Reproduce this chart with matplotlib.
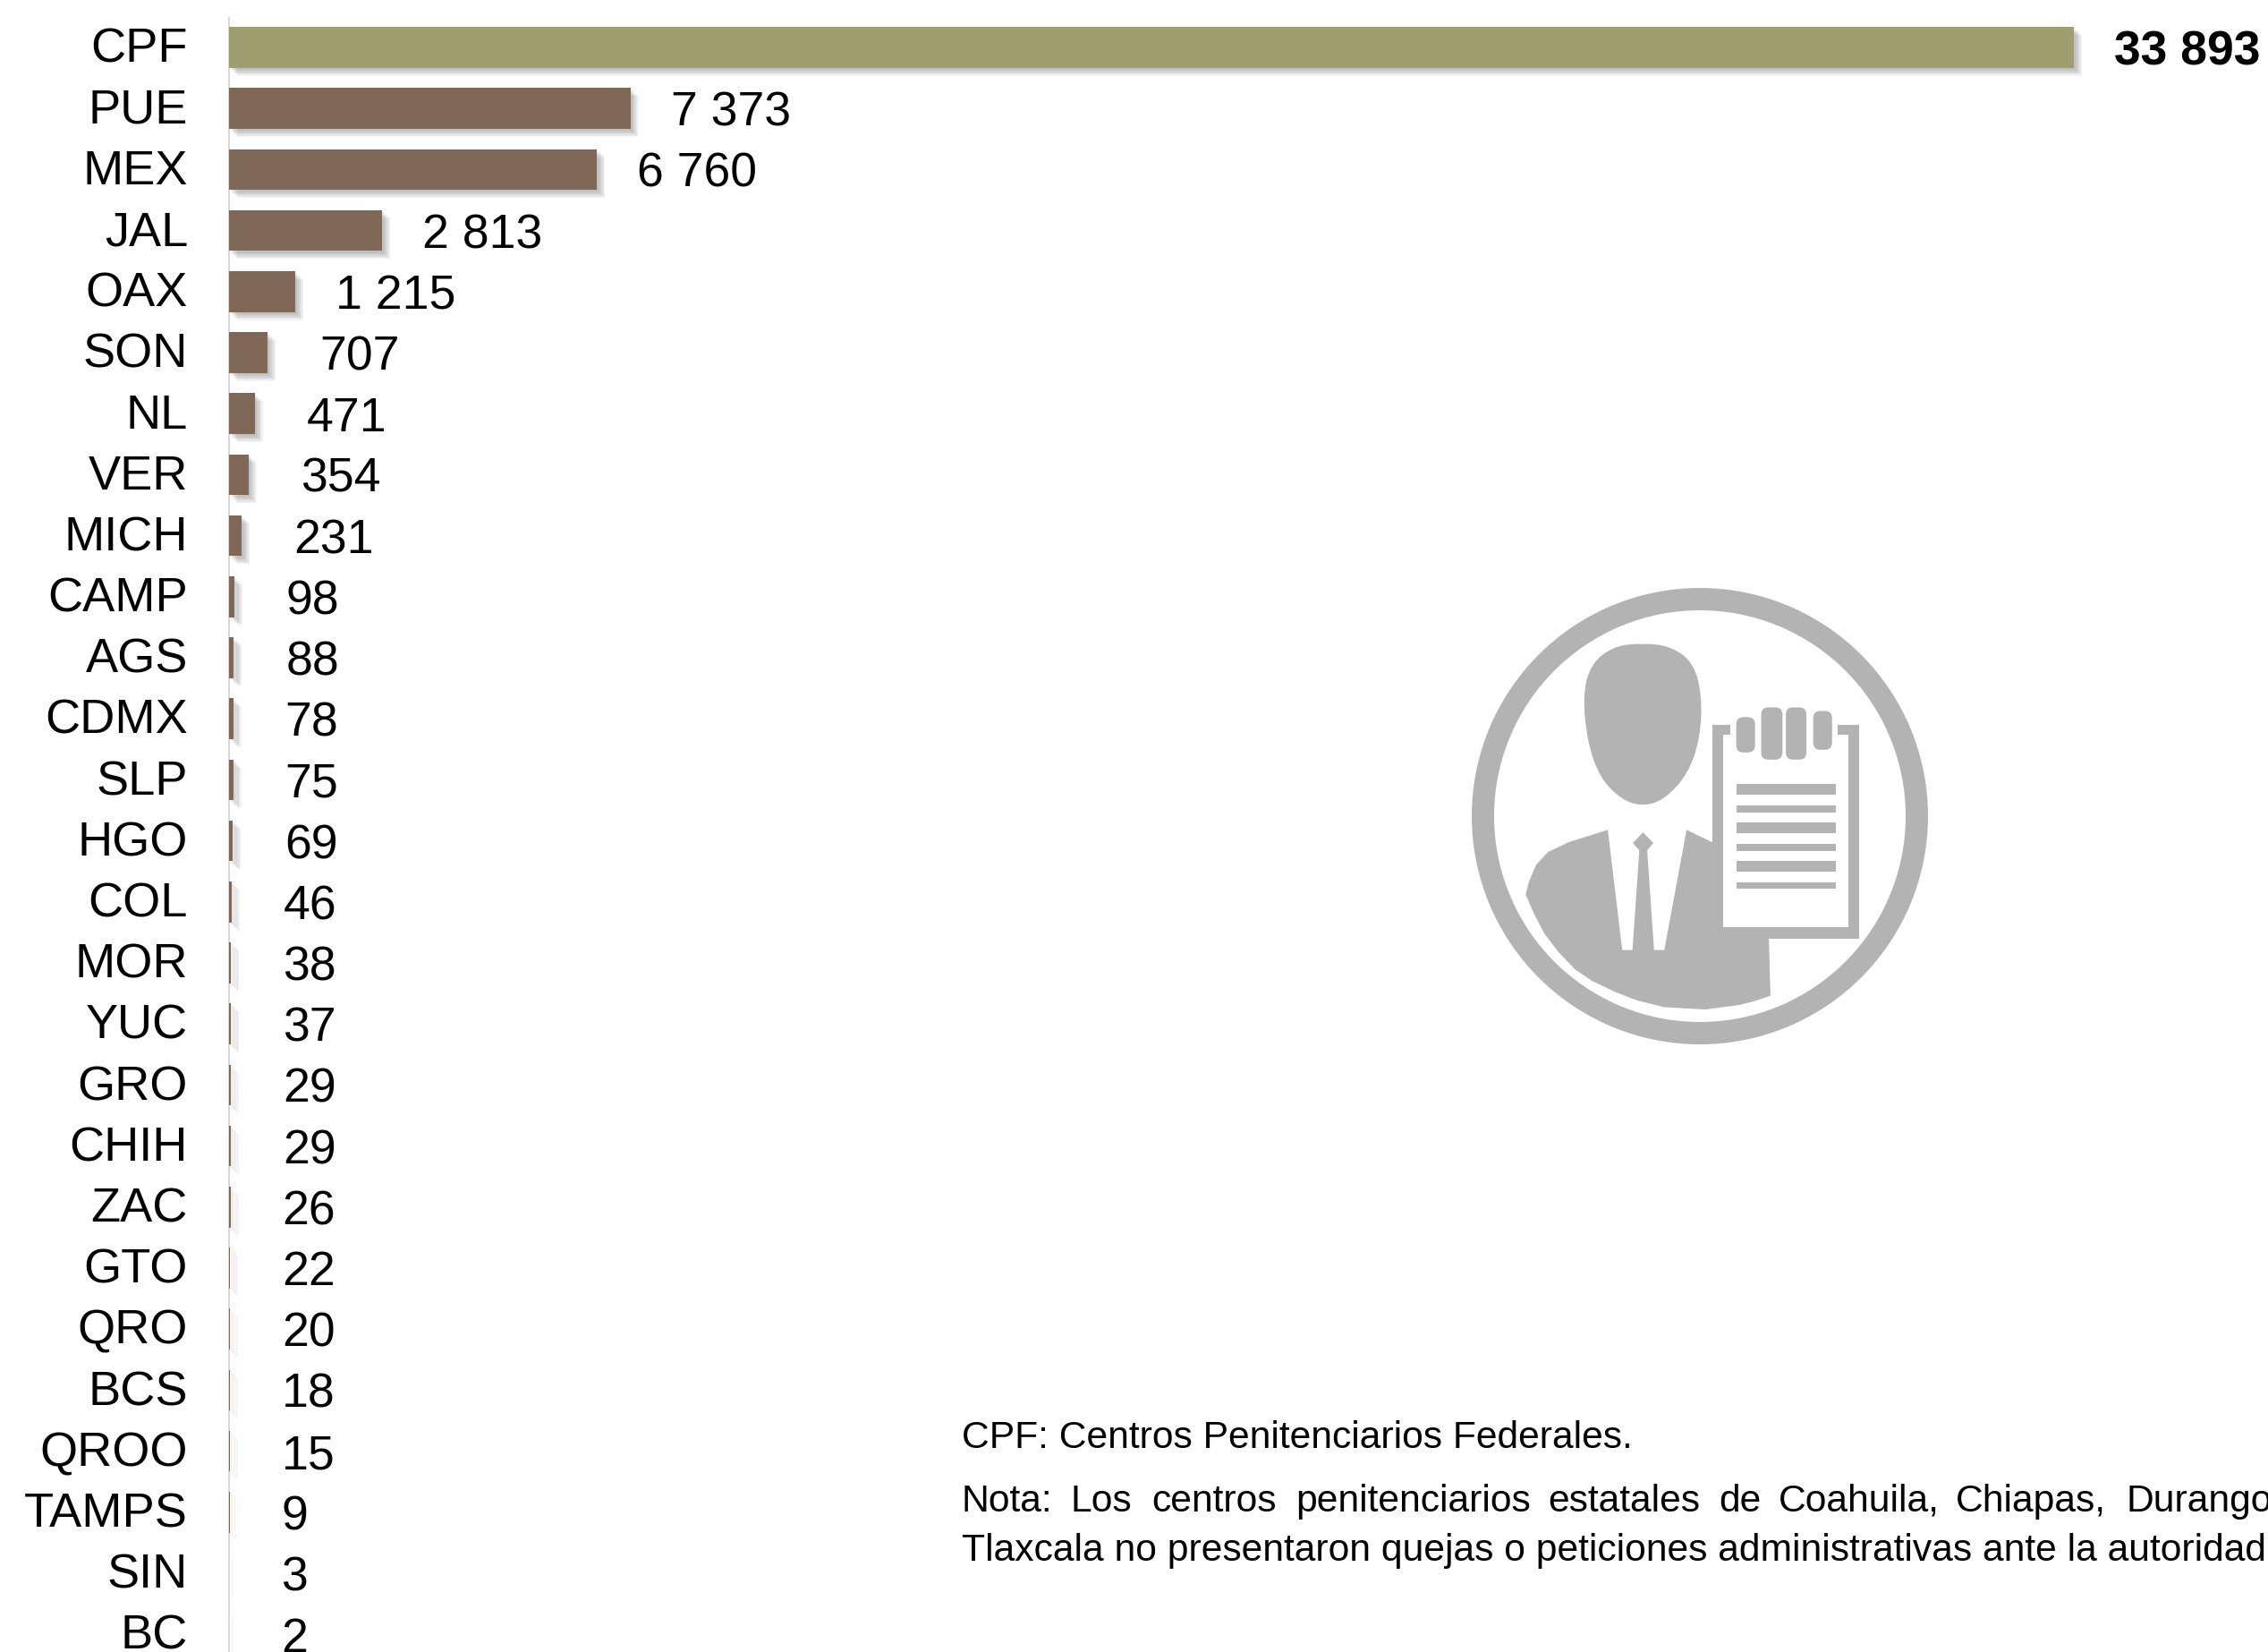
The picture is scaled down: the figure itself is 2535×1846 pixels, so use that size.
import numpy as np
from matplotlib import pyplot as plt
from matplotlib import patheffects as pe
from matplotlib.patches import Rectangle, FancyBboxPatch, PathPatch, Wedge
from matplotlib.path import Path

plt.rcParams['font.family'] = ['Liberation Sans', 'DejaVu Sans']

categories = ['CPF', 'PUE', 'MEX', 'JAL', 'OAX', 'SON', 'NL', 'VER', 'MICH', 'CAMP', 'AGS', 'CDMX', 'SLP',
              'HGO', 'COL', 'MOR', 'YUC', 'GRO', 'CHIH', 'ZAC', 'GTO', 'QRO', 'BCS', 'QROO', 'TAMPS', 'SIN', 'BC']
values = [33893, 7373, 6760, 2813, 1215, 707, 471, 354, 231, 98, 88, 78, 75,
          69, 46, 38, 37, 29, 29, 26, 22, 20, 18, 15, 9, 3, 2]
note_first = 'CPF: Centros Penitenciarios Federales.'
note_words = ['Nota:', 'Los', 'centros', 'penitenciarios', 'estatales', 'de', 'Coahuila,', 'Chiapas,', 'Durango']
note_word_x = [1074, 1197, 1287, 1448, 1730, 1921, 1988, 2186, 2376]
note_last = 'Tlaxcala no presentaron quejas o peticiones administrativas ante la autoridad'

W, H = 2535, 1846
ICON = '#B3B3B3'
FS_CAT = 39
FS_VAL = 38.5

fig = plt.figure(figsize=(W / 100, H / 100), dpi=100)

# bars, scale from the reference: 0 at x=256, 0.06084 px per unit, rows 68.2 px apart
ax = fig.add_axes([256 / W, 0, 1 - 256 / W, 1 - 20 / H])
ax.set_xlim(0, (W - 256) / 0.06084)
ax.set_ylim((H - 53) / 68.2, -33 / 68.2)

colors = ['#9E9E71'] + ['#806858'] * (len(values) - 1)
shadow = [pe.SimplePatchShadow(offset=(o, -o), shadow_rgbFace='#555555', alpha=0.07)
          for o in (6.5, 5.5, 4.5, 3.5, 2.5, 1.5)]
bars = ax.barh(range(len(values)), values, height=0.67, color=colors, zorder=3)
for b in bars:
    b.set_path_effects(shadow + [pe.Normal()])

for i, v in enumerate(values):
    label = f'{v:,}'.replace(',', ' ')
    off = 45 if v >= 1000 else 58
    ax.annotate(label, (v, i), xytext=(off * 0.72, 0), textcoords='offset points', va='center_baseline', ha='left',
                fontsize=FS_VAL, color='black', fontweight='bold' if i == 0 else 'normal', annotation_clip=False)
    ax.annotate(categories[i], (0, i), xytext=(-46 * 0.72, 2), textcoords='offset points', va='center_baseline',
                ha='right', fontsize=FS_CAT, color='black', annotation_clip=False)

ax.set_yticks([])
ax.set_xticks([])
for s in ['top', 'right', 'bottom']:
    ax.spines[s].set_visible(False)
ax.spines['left'].set_color('#D9D9D9')
ax.spines['left'].set_linewidth(1.5)
ax.patch.set_alpha(0)

# overlay in pixel coordinates for the icon and the notes
ov = fig.add_axes([0, 0, 1, 1])
ov.set_xlim(0, W)
ov.set_ylim(H, 0)
ov.axis('off')
ov.patch.set_alpha(0)


def zx(x):
    return 1600 + x / 2.613


def zy(y):
    return 620 + y / 2.74


def smooth(pts):
    # closed quadratic spline through the midpoints
    pts = np.array([(zx(a), zy(b)) for a, b in pts])
    mids = (pts + np.roll(pts, -1, axis=0)) / 2
    verts = [mids[-1]]
    codes = [Path.MOVETO]
    for p, m in zip(pts, mids):
        verts += [p, m]
        codes += [Path.CURVE3, Path.CURVE3]
    return Path(verts, codes)


def zrect(x0, y0, x1, y1, color):
    ov.add_patch(Rectangle((zx(x0), zy(y0)), (x1 - x0) / 2.613, (y1 - y0) / 2.74, fc=color, ec='none'))


ov.add_patch(Wedge((1900, 912), 255, 0, 360, width=25, fc=ICON, ec='none'))
# head
head = [(617, 270), (700, 280), (765, 330), (790, 430), (785, 560), (750, 670), (680, 750), (617, 770),
        (555, 750), (490, 680), (455, 570), (442, 430), (465, 335), (530, 280)]
ov.add_patch(PathPatch(smooth(head), fc=ICON, ec='none'))
# body with the white lapels left out
body = [(515, 842), (557, 1210), (587, 1210), (607, 905), (588, 882), (618, 850), (648, 882), (630, 905),
        (650, 1210), (680, 1210), (745, 842), (820, 880), (900, 1100), (985, 1160), (990, 1350),
        (945, 1366), (900, 1378), (800, 1392), (680, 1385), (600, 1364), (540, 1340), (470, 1305),
        (420, 1270), (370, 1215), (330, 1160), (300, 1100), (275, 1040), (285, 1000), (305, 950),
        (340, 910), (400, 880)]
ov.fill([zx(a) for a, b in body], [zy(b) for a, b in body], fc=ICON, ec='none')
# clipboard
zrect(820, 520, 985, 1165, ICON)
zrect(985, 520, 1250, 1175, ICON)
zrect(852, 552, 1218, 1140, 'white')
zrect(873, 515, 1187, 552, 'white')
for x0, x1, y0, y1 in [(890, 945, 497, 605), (963, 1025, 467, 627), (1035, 1095, 467, 627), (1115, 1170, 478, 597)]:
    ov.add_patch(FancyBboxPatch((zx(x0) + 5, zy(y0) + 5), (x1 - x0) / 2.613 - 10, (y1 - y0) / 2.74 - 10,
                                boxstyle='round,pad=5,rounding_size=8', fc=ICON, ec='none'))
for y0, y1 in [(702, 735), (767, 790), (820, 853), (885, 908), (938, 970), (1003, 1023)]:
    zrect(890, y0, 1180, y1, ICON)

# notes
NS = 30.7
ov.text(1075, 1618, note_first, fontsize=NS, va='baseline', ha='left')
for w, x in zip(note_words, note_word_x):
    ov.text(x, 1689, w, fontsize=NS, va='baseline', ha='left', clip_on=True)
ov.text(1075, 1744, note_last, fontsize=NS, va='baseline', ha='left', clip_on=True)

fig.savefig('out.png', dpi=100, facecolor='white')
